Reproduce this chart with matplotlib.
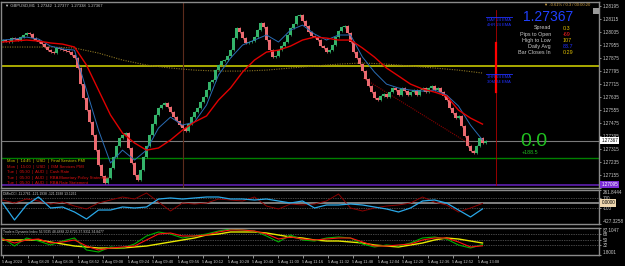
import numpy as np
import matplotlib.pyplot as plt
from matplotlib.patches import Rectangle

plt.rcParams['font.family'] = ['Liberation Sans', 'DejaVu Sans']

# GBPUSD M1 closes (one bar per ~1.9 min on this zoom level)
closes = [1.27985, 1.27979, 1.27973, 1.27997, 1.27991, 1.27985, 1.28003, 1.28016, 1.28028, 1.28022,
          1.27997, 1.27985, 1.27973, 1.27960, 1.27942, 1.27923, 1.27911, 1.27905, 1.27936, 1.27930,
          1.27923, 1.27917, 1.27911, 1.27893, 1.27874, 1.27813, 1.27714, 1.27628, 1.27554, 1.27481,
          1.27401, 1.27308, 1.27216, 1.27149, 1.27106, 1.27136, 1.27198, 1.27265, 1.27333, 1.27382,
          1.27401, 1.27413, 1.27321, 1.27229, 1.27155, 1.27124, 1.27185, 1.27265, 1.27333, 1.27401,
          1.27468, 1.27524, 1.27567, 1.27585, 1.27598, 1.27573, 1.27542, 1.27511, 1.27487, 1.27462,
          1.27444, 1.27425, 1.27468, 1.27511, 1.27542, 1.27567, 1.27604, 1.27634, 1.27677, 1.27727,
          1.27739, 1.27800, 1.27831, 1.27856, 1.27862, 1.27887, 1.27923, 1.27997, 1.28059, 1.28034,
          1.27997, 1.27967, 1.27973, 1.27979, 1.28003, 1.28046, 1.28090, 1.28065, 1.27985, 1.27923,
          1.27880, 1.27887, 1.27923, 1.27948, 1.27973, 1.28016, 1.28059, 1.28083, 1.28133, 1.28139,
          1.28102, 1.28071, 1.28034, 1.28010, 1.28003, 1.27985, 1.27948, 1.27936, 1.27911, 1.27923,
          1.27954, 1.28003, 1.28040, 1.28065, 1.28071, 1.28028, 1.27973, 1.27911, 1.27874, 1.27837,
          1.27794, 1.27745, 1.27702, 1.27665, 1.27628, 1.27616, 1.27641, 1.27653, 1.27634, 1.27665,
          1.27690, 1.27677, 1.27647, 1.27690, 1.27671, 1.27647, 1.27665, 1.27677, 1.27647, 1.27677,
          1.27690, 1.27665, 1.27690, 1.27702, 1.27677, 1.27690, 1.27665, 1.27641, 1.27616, 1.27567,
          1.27536, 1.27505, 1.27518, 1.27456, 1.27395, 1.27333, 1.27302, 1.27290, 1.27333, 1.27382,
          1.27352, 1.27367]
first_open = 1.27980

# moving averages read every 4 bars
ema_red = [1.27973, 1.27979, 1.27985, 1.27979, 1.27967, 1.27960, 1.27942, 1.27831, 1.27677, 1.27524,
           1.27413, 1.27352, 1.27308, 1.27321, 1.27370, 1.27431, 1.27481, 1.27518, 1.27616, 1.27690,
           1.27788, 1.27862, 1.27911, 1.27923, 1.27948, 1.27985, 1.28003, 1.27997, 1.27985, 1.27985,
           1.27936, 1.27880, 1.27813, 1.27764, 1.27714, 1.27684, 1.27665, 1.27641, 1.27554, 1.27505,
           1.27468]
ema_blue = [1.27985, 1.27991, 1.28003, 1.27991, 1.27948, 1.27930, 1.27923, 1.27677, 1.27431, 1.27229,
            1.27308, 1.27247, 1.27308, 1.27444, 1.27511, 1.27462, 1.27481, 1.27585, 1.27770, 1.27874,
            1.27954, 1.27985, 1.28016, 1.27973, 1.28046, 1.28077, 1.28022, 1.27985, 1.28016, 1.28016,
            1.27880, 1.27788, 1.27714, 1.27690, 1.27677, 1.27671, 1.27677, 1.27647, 1.27579, 1.27462,
            1.27370]
# slow MA read every 8 bars
sma_slow = [1.27942, 1.27942, 1.27942, 1.27936, 1.27905, 1.27862, 1.27831, 1.27813, 1.27800, 1.27794,
            1.27794, 1.27800, 1.27813, 1.27825, 1.27837, 1.27844, 1.27837, 1.27825, 1.27813, 1.27800,
            1.27782]

trend_x = [120.3, 156.3]
trend_y = [1.27751, 1.27339]

level_yellow = 1.27825
level_green = 1.27259
level_purple = 1.27095
bid = 1.27367

price_ticks = [1.28195, 1.28115, 1.28035, 1.27955, 1.27875, 1.27795, 1.27715, 1.27635,
               1.27555, 1.27475, 1.27395, 1.27315, 1.27235, 1.27155, 1.27075]

# DMInCCI, every 4 bars
cci_blue = [-2, -346, -42, 120, -103, -83, -184, -326, -144, -144, -83, -103, -83, 79, 100, 79, 100,
            120, 120, 79, 79, 59, 79, 39, -2, 39, -103, -42, -42, -22, -42, -83, -123, -184, -103,
            39, 59, -2, -144, -285, -121]
cci_red = [59, -2, 79, 39, -22, 18, -63, -123, -2, 59, 120, 79, 201, 18, -164, -2, -22, -2, 79, 59,
           39, 120, -63, -123, -22, -42, -22, 39, 181, -103, -164, -103, -63, -42, -2, 120, 18, -42,
           -184, -103, -11]
cci_ticks = [261.8444, 100, -100, -427.3258]

# Traders Dynamic Index, every 4 bars
tdi_green = [55.5, 30.2, 55.5, 46.0, 33.4, 46.0, 55.5, 17.6, 11.3, 27.1, 23.9, 36.5, 61.8, 74.5, 68.1,
             55.5, 61.8, 68.1, 77.6, 83.9, 80.8, 77.6, 61.8, 42.9, 65.0, 49.2, 46.0, 55.5, 58.7, 55.5,
             36.5, 27.1, 33.4, 30.2, 39.7, 55.5, 58.7, 52.3, 33.4, 23.9, 34.9]
tdi_red = [52.3, 39.7, 49.2, 52.3, 39.7, 42.9, 49.2, 30.2, 17.6, 23.9, 27.1, 30.2, 49.2, 68.1, 71.3,
           61.8, 61.8, 65.0, 74.5, 80.8, 80.8, 77.6, 68.1, 52.3, 58.7, 52.3, 49.2, 52.3, 55.5, 55.5,
           42.9, 30.2, 30.2, 33.4, 36.5, 49.2, 55.5, 55.5, 42.9, 27.1, 31.0]
tdi_yellow = [49.2, 49.2, 49.2, 49.2, 42.9, 36.5, 30.2, 27.1, 23.9, 23.9, 23.9, 27.1, 30.2, 36.5, 42.9,
              49.2, 55.5, 65.0, 68.1, 74.5, 74.5, 74.5, 71.3, 65.0, 58.7, 55.5, 49.2, 46.0, 46.0, 42.9,
              39.7, 33.4, 30.2, 27.1, 33.4, 39.7, 49.2, 55.5, 52.3, 46.0, 39.7]
tdi_ticks = [87.1047, 68, 50, 32, 1.8001]

time_labels = ["5 Aug 2024", "5 Aug 08:20", "5 Aug 08:36", "5 Aug 08:52", "5 Aug 09:08",
               "5 Aug 09:24", "5 Aug 09:40", "5 Aug 09:56", "5 Aug 10:12", "5 Aug 10:28",
               "5 Aug 10:44", "5 Aug 11:00", "5 Aug 11:16", "5 Aug 11:32", "5 Aug 11:48",
               "5 Aug 12:04", "5 Aug 12:20", "5 Aug 12:36", "5 Aug 12:52", "5 Aug 13:08"]

events = ["Mon  |  14:45  |  USD  |  Final Services PMI",
          "Mon  |  15:00  |  USD  |  ISM Services PMI",
          "Tue  |  05:30  |  AUD  |  Cash Rate",
          "Tue  |  05:30  |  AUD  |  RBA Monetary Policy Statement",
          "Tue  |  05:30  |  AUD  |  RBA Rate Statement"]
event_colors = ["#c8c800", "#e01010", "#e01010", "#e01010", "#e01010"]

info_labels = ["Spread", "Pips to Open", "High to Low", "Daily Avg", "Bar Closes In"]
info_values = ["0.3", "-69", "107", "83.7", "0:29"]
info_colors = ["#e0c000", "#ff2020", "#e0c000", "#2030ff", "#e0c000"]

# ---------------------------------------------------------------
W, H = 625, 266
BG = "black"
GRID = "#8a8a8a"
TXT = "#c8c8c8"
RIGHT = 599

fig = plt.figure(figsize=(W / 100, H / 100), dpi=100, facecolor=BG)


def px_axes(x0, y0, x1, y1):
    a = fig.add_axes([x0 / W, 1 - y1 / H, (x1 - x0) / W, (y1 - y0) / H])
    a.set_facecolor(BG)
    for s in a.spines.values():
        s.set_color(GRID)
        s.set_linewidth(1.0)
    a.yaxis.tick_right()
    a.tick_params(axis="y", length=1.5, width=0.5, colors=TXT, labelsize=3.3, pad=1)
    a.set_xlim(-0.5, (x1 - x0) / 3 - 0.5)
    return a


def ftext(x, y, s, **kw):
    kw.setdefault("va", "center")
    fig.text(x / W, 1 - y / H, s, **kw)


ax = px_axes(1, 2, RIGHT, 188)
ax_cci = px_axes(1, 190, RIGHT, 224)
ax_tdi = px_axes(1, 228, RIGHT, 255)

# ---- candles
closes = np.array(closes)
n = len(closes)
idx = np.arange(n)
opens = np.r_[first_open, closes[:-1]]
highs = np.maximum(opens, closes) + 0.00006
lows = np.minimum(opens, closes) - 0.00006
up = closes >= opens
cols = np.where(up, "#34b36a", "#ec6a70")
ax.vlines(idx, lows, highs, colors=cols, lw=0.5, zorder=3)
body = np.maximum(np.abs(closes - opens), 0.00002)
ax.bar(idx, body, bottom=np.minimum(opens, closes), width=0.7, color=cols, linewidth=0, zorder=4)

ax.plot(np.arange(len(sma_slow)) * 8, sma_slow, color="#8a7422", lw=0.8, ls=(0, (1, 1.2)), zorder=2)
ax.plot(np.arange(len(ema_blue)) * 4, ema_blue, color="#2a6db5", lw=0.7, zorder=5)
ax.plot(np.arange(len(ema_red)) * 4, ema_red, color="#e00000", lw=1.0, zorder=5)
ax.plot(trend_x, trend_y, color="#8b0000", lw=0.8, ls=(0, (1, 1)), zorder=2)

ax.axhline(level_yellow, color="#d8d800", lw=1.1, zorder=1)
ax.axhline(bid, color="#7a7a7a", lw=0.8, zorder=1)
ax.axhline(level_green, color="#008000", lw=1.0, zorder=1)
ax.axhline(level_purple, color="#6020b0", lw=1.2, zorder=1)

ax.axvline(60.2, color="#5c2b1c", lw=0.8, zorder=1)
ax.axvline(164.5, ymin=0.016, ymax=0.957, color="#b00000", lw=0.6, zorder=1)
ax.axvline(164.5, ymin=0.516, ymax=0.780, color="#ff0000", lw=1.6, zorder=1)

ax.set_ylim(1.27075, 1.28219)
ax.set_yticks(price_ticks)
ax.set_yticklabels([f"{p:.5f}" for p in price_ticks])
ax.get_yticklabels()[-1].set_va("bottom")
ax.set_xticks([])

ytr = ax.get_yaxis_transform()
ax.text(1.004, bid, f"{bid:.5f}", transform=ytr, ha="left", va="center", fontsize=3.3,
        color="black", bbox=dict(boxstyle="square,pad=0.25", fc="white", ec="none"), zorder=10)
ax.text(1.004, level_purple, f"{level_purple:.5f}", transform=ytr, ha="left", va="center",
        fontsize=3.3, color="white", bbox=dict(boxstyle="square,pad=0.25", fc="#7b2cd6", ec="none"),
        zorder=10)

# ---- texts in the main window
ftext(5, 6, "\u25bc GBPUSD,M1  1.27342  1.27377  1.27338  1.27367", fontsize=3.0, color=TXT)
ftext(590, 5, "\u25bc -0.61% / 0.3 / 00:00:20", fontsize=3.0, color="#d0a040", ha="right")
ftext(573, 17, "1.27367", fontsize=10, color="#2040ff", ha="right")
for k, (lab, val, c) in enumerate(zip(info_labels, info_values, info_colors)):
    y = 28 + k * 6.2
    ftext(551, y, lab, fontsize=3.9, color=TXT, ha="right")
    ftext(563, y, val, fontsize=3.9, color=c, ha="left")

fig.add_artist(Rectangle((593 / W, 1 - 14 / H), 6 / W, 6 / H, transform=fig.transFigure,
                         fc="#9a9a9a", ec="none"))

for y0, labs in ((20, ["DAY 24 EMA", "4HR 24 EMA"]), (77, ["1HR 24 EMA", "30M 24 EMA"])):
    fig.add_artist(plt.Line2D([486 / W, 512 / W], [1 - (y0 - 3) / H] * 2, color="#2030ff", lw=0.6))
    for j, lab in enumerate(labs):
        ftext(487, y0 + j * 5, lab, fontsize=3.0, color="#2030ff")

ftext(520, 142, "0.0", fontsize=14, color="#20c020", ha="left")
ftext(522, 153, "+188.5", fontsize=3.8, color="#20c020", ha="left")

for k, (ev, c) in enumerate(zip(events, event_colors)):
    ftext(7, 161 + k * 5.6, ev, fontsize=3.0, color=c)

# ---- DMInCCI
ci = np.arange(len(cci_blue)) * 4
ax_cci.set_ylim(-427.3258, 261.8444)
for lv in (100, -100):
    ax_cci.axhline(lv, color="#8a8a8a", lw=0.5, ls=(0, (1, 1.5)))
ax_cci.axhline(0, color="#8a8a8a", lw=1.3)
ax_cci.plot(ci, cci_red, color="#8b0000", lw=0.7)
ax_cci.plot(ci, cci_blue, color="#2aa8e8", lw=0.9)
ax_cci.set_yticks(cci_ticks)
ax_cci.set_yticklabels(["261.8444", "100", "-100", "-427.3258"])
ax_cci.get_yticklabels()[0].set_va("top")
ax_cci.get_yticklabels()[-1].set_va("bottom")
ax_cci.set_xticks([])
ax_cci.text(1.004, 0, "0.0000", transform=ax_cci.get_yaxis_transform(), ha="left", va="center",
            fontsize=3.3, color="black", bbox=dict(boxstyle="square,pad=0.25", fc="#f0d8b0", ec="none"))
ftext(3, 194, "DMInCCI -11.2761 -121.1938 -121.1938 13.1261", fontsize=2.4, color=TXT)

# ---- Traders Dynamic Index
ti = np.arange(len(tdi_green)) * 4
ax_tdi.set_ylim(1.8001, 87.1047)
for lv in (68, 50, 32):
    ax_tdi.axhline(lv, color="#8a8a8a", lw=0.5, ls=(0, (1, 1.5)))
ax_tdi.plot(ti, tdi_yellow, color="#e8e800", lw=1.0)
ax_tdi.plot(ti, tdi_green, color="#00b000", lw=0.8)
ax_tdi.plot(ti, tdi_red, color="#ff1010", lw=0.8)
ax_tdi.set_yticks(tdi_ticks)
ax_tdi.set_yticklabels(["87.1047", "68", "50", "32", "1.8001"])
ax_tdi.get_yticklabels()[0].set_va("top")
ax_tdi.get_yticklabels()[-1].set_va("bottom")
ftext(3, 232, "Traders Dynamic Index 56.5035 48.4888 22.6725 37.9311 34.8477", fontsize=2.4, color=TXT)

ax_tdi.set_xticks(np.arange(len(time_labels)) * 25 / 3)
ax_tdi.set_xticklabels(time_labels, ha="left")
ax_tdi.tick_params(axis="x", length=2, width=0.5, colors=TXT, labelsize=2.9, pad=1.5)

fig.savefig("out.png", dpi=100, facecolor=BG)
